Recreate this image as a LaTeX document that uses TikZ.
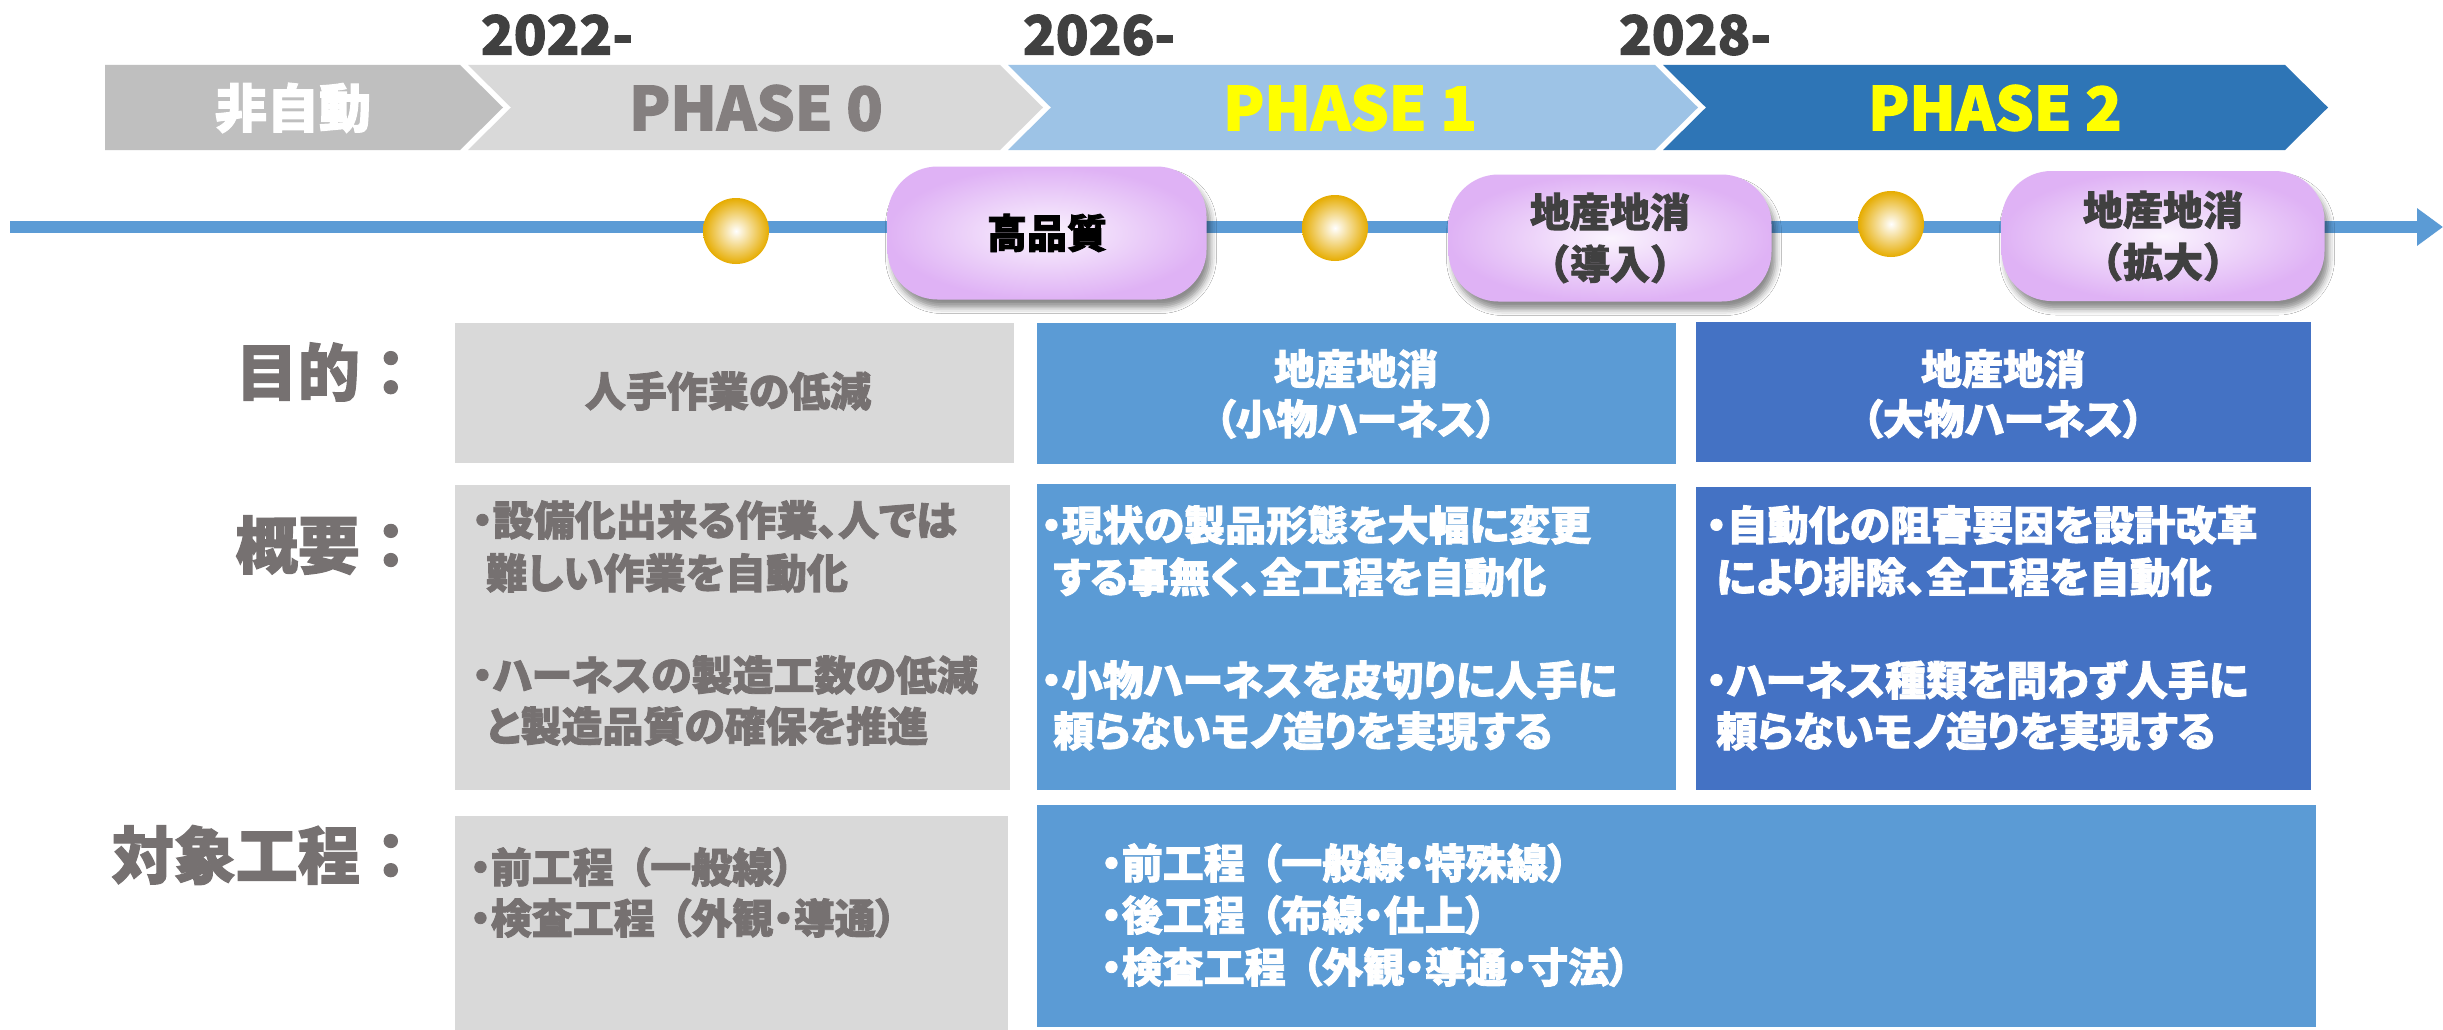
\documentclass[tikz,border=0pt]{standalone}
\usepackage{fontspec}
\setmainfont{Noto Sans CJK JP}[RawFeature=+palt,BoldFeatures={FakeBold=2}]
\newfontfamily\jpw{Noto Sans CJK JP}[BoldFeatures={FakeBold=2}]
\usetikzlibrary{arrows.meta,shadows.blur}
\definecolor{gA}{HTML}{BFBFBF}
\definecolor{gB}{HTML}{D9D9D9}
\definecolor{bL}{HTML}{9DC3E6}
\definecolor{bD}{HTML}{2E75B6}
\definecolor{bM}{HTML}{5B9BD5}
\definecolor{bN}{HTML}{4472C4}
\definecolor{tg}{HTML}{767171}
\definecolor{dk}{HTML}{404040}
\definecolor{gold}{HTML}{E6AC00}
\definecolor{pill}{HTML}{DFB2F5}
\definecolor{yel}{HTML}{FFFF00}
\newcommand{\pgap}{\hspace{16pt}}
\begin{document}
\begin{tikzpicture}[x=1pt,y=-1pt,
  yr/.style={font=\bfseries\fontsize{54}{60}\selectfont,text=dk,inner sep=0},
  ph/.style={font=\bfseries\fontsize{60}{66}\selectfont,inner sep=0},
  pillst/.style={rounded corners=50pt,shading=radial,inner color=pill!15,outer color=pill,
     blur shadow={shadow xshift=4pt,shadow yshift=-8pt,shadow blur radius=6pt,shadow opacity=45},
     font=\jpw\bfseries\fontsize{40}{52}\selectfont,align=center,inner sep=0},
  dot/.style={circle,minimum size=66pt,inner sep=0,shading=radial,inner color=white,outer color=gold},
  cell/.style={anchor=north west,inner sep=0,outer sep=0},
  body/.style={font=\bfseries\fontsize{41}{50}\selectfont,inner sep=0},
  lab/.style={font=\jpw\bfseries\fontsize{62}{68}\selectfont,text=tg,inner sep=0,anchor=east}
]
\useasboundingbox[fill=white] (0,0) rectangle (2443,1030);

% chevrons
\fill[gA] (105,65) -- (460,65) -- (503,107.5) -- (460,150) -- (105,150) -- cycle;
\fill[gB] (468,65) -- (1000,65) -- (1043,107.5) -- (1000,150) -- (468,150) -- (511,107.5) -- cycle;
\fill[bL] (1008,65) -- (1655,65) -- (1698,107.5) -- (1655,150) -- (1008,150) -- (1051,107.5) -- cycle;
\fill[bD] (1663,65) -- (2285,65) -- (2328,107.5) -- (2285,150) -- (1663,150) -- (1706,107.5) -- cycle;

\node[font=\bfseries\fontsize{52}{56}\selectfont,text=white,inner sep=0] (c0) at (293,108) {非自動};
\node[ph,text=tg!90] (c1) at (756,108) {PHASE 0};
\node[ph,text=yel] (c2) at (1350,108) {PHASE 1};
\node[ph,text=yel] (c3) at (1995,108) {PHASE 2};

\node[yr] (y1) at (557,35) {2022-};
\node[yr] (y2) at (1099,35) {2026-};
\node[yr] (y3) at (1695,35) {2028-};

% timeline
\coordinate (tl0) at (10,227);
\coordinate (tl1) at (2443,227);
\draw[bM,line width=12pt,-{Triangle[length=26pt,width=36pt]}] (tl0) -- (tl1);

\node[dot] (d1) at (736,231) {};
\node[dot] (d2) at (1335,228) {};
\node[dot] (d3) at (1891,224) {};

\node[pillst,minimum width=319pt,minimum height=133pt,text=black] (p1) at (1047,233) {高品質};
\node[pillst,minimum width=323pt,minimum height=127pt,text=dk] (p2) at (1610,238) {地産地消\\（導入）};
\node[pillst,minimum width=323pt,minimum height=130pt,text=dk] (p3) at (2163,236) {地産地消\\（拡大）};

% labels
\node[lab] (l1) at (422,372) {目的：};
\node[lab] (l2) at (422,545) {概要：};
\node[lab] (l3) at (422,855) {対象工程：};

% boxes
\node[cell,fill=gB,minimum width=559pt,minimum height=140pt] (b1g) at (455,323) {};
\node[cell,fill=bM,minimum width=639pt,minimum height=141pt] (b1b) at (1037,323) {};
\node[cell,fill=bN,minimum width=615pt,minimum height=140pt] (b1n) at (1696,322) {};
\node[cell,fill=gB,minimum width=555pt,minimum height=305pt] (b2g) at (455,485) {};
\node[cell,fill=bM,minimum width=639pt,minimum height=306pt] (b2b) at (1037,484) {};
\node[cell,fill=bN,minimum width=615pt,minimum height=303pt] (b2n) at (1696,487) {};
\node[cell,fill=gB,minimum width=553pt,minimum height=214pt] (b3g) at (455,816) {};
\node[cell,fill=bM,minimum width=1279pt,minimum height=222pt] (b3b) at (1037,805) {};

% row 1 text
\node[body,text=tg] (t1g) at (728,391) {人手作業の低減};
\node[body,text=white,align=center] (t1b) at (1356,394) {地産地消\\（小物ハーネス）};
\node[body,text=white,align=center] (t1n) at (2003,394) {地産地消\\（大物ハーネス）};

% row 2 text
\node[body,text=tg,anchor=west] (g21) at (472,520) {・設備化出来る作業、人では};
\node[body,text=tg,anchor=west] (g22) at (486,573) {難しい作業を自動化};
\node[body,text=tg,anchor=west] (g23) at (472,675) {・ハーネスの製造工数の低減};
\node[body,text=tg,anchor=west] (g24) at (486,726) {と製造品質の確保を推進};

\node[body,text=white,anchor=west] (b21) at (1041,525) {・現状の製品形態を大幅に変更};
\node[body,text=white,anchor=west] (b22) at (1053,577) {する事無く、全工程を自動化};
\node[body,text=white,anchor=west] (b23) at (1041,680) {・小物ハーネスを皮切りに人手に};
\node[body,text=white,anchor=west] (b24) at (1053,731) {頼らないモノ造りを実現する};

\node[body,text=white,anchor=west] (n21) at (1706,525) {・自動化の阻害要因を設計改革};
\node[body,text=white,anchor=west] (n22) at (1716,577) {により排除、全工程を自動化};
\node[body,text=white,anchor=west] (n23) at (1706,680) {・ハーネス種類を問わず人手に};
\node[body,text=white,anchor=west] (n24) at (1716,731) {頼らないモノ造りを実現する};

% row 3 text
\node[body,text=tg,anchor=west] (g31) at (470,867) {・前工程\pgap（一般線）};
\node[body,text=tg,anchor=west] (g32) at (470,918) {・検査工程\pgap（外観・導通）};
\node[body,text=white,anchor=west] (b31) at (1101,863) {・前工程\pgap（一般線・特殊線）};
\node[body,text=white,anchor=west] (b32) at (1101,915) {・後工程\pgap（布線・仕上）};
\node[body,text=white,anchor=west] (b33) at (1101,967) {・検査工程\pgap（外観・導通・寸法）};
\end{tikzpicture}
\end{document}
